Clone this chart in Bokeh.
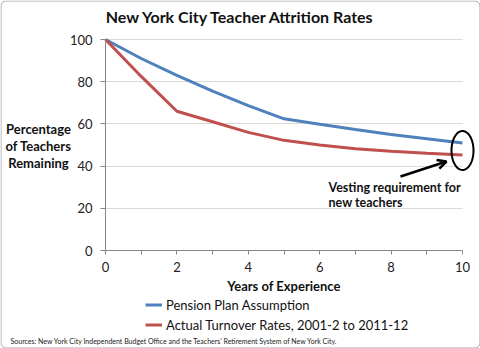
import numpy as np
from bokeh.plotting import figure
from bokeh.models import (Range1d, FixedTicker, Label, Arrow, OpenHead,
                          PolyAnnotation, BoxAnnotation, Legend, LegendItem, Grid)
from bokeh.embed import file_html
from bokeh.resources import INLINE

# ---- data ----
years = [0, 1, 2, 3, 4, 5, 6, 7, 8, 9, 10]
pension_plan = [100, 91, 83, 75.5, 68.7, 62.4, 59.8, 57.3, 55, 53, 51]
actual_turnover = [100, 82.5, 66, 61, 56, 52.2, 50, 48.2, 47, 46.1, 45.3]
series_names = ["Pension Plan Assumption", "Actual Turnover Rates, 2001-2 to 2011-12"]
x_ticks = [0, 2, 4, 6, 8, 10]
x_minor_ticks = [1, 3, 5, 7, 9]
y_ticks = [0, 20, 40, 60, 80, 100]

FONT = "Lato"
W, H = 480, 348
# pixel positions of the plotting area (data 0..10 x 0..100)
PL, PR, PT, PB = 105, 462, 39, 250
X0, X1, Y0, Y1 = 0, 10, 0, 100


def dx(px):
    return X0 + (px - PL) / (PR - PL) * (X1 - X0)


def dy(py):
    return Y0 + (PB - py) / (PB - PT) * (Y1 - Y0)


# the frame covers the whole canvas; axes are pinned at x=0 / y=0
p = figure(width=W, height=H, output_backend="svg", toolbar_location=None,
           x_range=Range1d(dx(0), dx(W)), y_range=Range1d(dy(H), dy(0)),
           min_border_left=0, min_border_right=0, min_border_top=0, min_border_bottom=0)
p.outline_line_color = None
p.background_fill_color = "white"
p.border_fill_color = "white"

axis_col = "#868686"
p.xgrid.visible = False

xa = p.xaxis[0]
xa.fixed_location = Y0
xa.bounds = (X0, X1)
xa.ticker = FixedTicker(ticks=x_ticks, minor_ticks=x_minor_ticks)
xa.axis_line_color = axis_col
xa.major_tick_line_color = axis_col
xa.minor_tick_line_color = axis_col
xa.major_tick_in = 0
xa.major_tick_out = 4
xa.minor_tick_in = 0
xa.minor_tick_out = 4
xa.major_label_standoff = 7
xa.major_label_text_font = FONT
xa.major_label_text_font_size = "13px"
xa.major_label_text_color = "#222222"
xa.axis_label = "Years of Experience"
xa.axis_label_text_font = FONT
xa.axis_label_text_font_size = "13px"
xa.axis_label_text_font_style = "bold"
xa.axis_label_text_color = "#111111"
xa.axis_label_standoff = 3

ya = p.yaxis[0]
ya.fixed_location = X0
ya.bounds = (Y0, Y1)
ya.ticker = FixedTicker(ticks=y_ticks)
ya.axis_line_color = axis_col
ya.major_tick_line_color = axis_col
ya.minor_tick_line_color = None
ya.major_tick_in = 0
ya.major_tick_out = 5
ya.major_label_standoff = 8
ya.major_label_text_font = FONT
ya.major_label_text_font_size = "13px"
ya.major_label_text_color = "#222222"

grid_col = "#d9d9d9"
if "cross_bounds" in Grid.properties():
    p.ygrid.ticker = FixedTicker(ticks=y_ticks[1:])
    p.ygrid.cross_bounds = (X0, X1)
    p.ygrid.grid_line_color = grid_col
else:
    p.ygrid.visible = False
    p.segment(x0=[X0] * (len(y_ticks) - 1), x1=[X1] * (len(y_ticks) - 1),
              y0=y_ticks[1:], y1=y_ticks[1:], line_color=grid_col, line_width=1)

r1 = p.line(years, pension_plan, line_color="#4F81BD", line_width=3)
r2 = p.line(years, actual_turnover, line_color="#C0504D", line_width=3)

legend = Legend(items=[LegendItem(label=series_names[0], renderers=[r1]),
                       LegendItem(label=series_names[1], renderers=[r2])],
                location=(145, H - 334), padding=0, margin=0, spacing=1,
                glyph_width=17, glyph_height=19, label_height=19, label_standoff=4,
                label_text_font=FONT, label_text_font_size="13px",
                label_text_color="#111111",
                border_line_color=None, background_fill_alpha=0)
p.add_layout(legend)

p.add_layout(Label(x=dx(240), y=dy(16), text="New York City Teacher Attrition Rates",
                   text_align="center", text_baseline="middle", text_font=FONT,
                   text_font_size="16px", text_font_style="bold", text_color="#111111"))

# y-axis title, three centred lines left of the tick labels
p.add_layout(Label(x=dx(38), y=dy(145.5), text="Percentage\nof Teachers\nRemaining",
                   text_align="center", text_baseline="middle", text_font=FONT,
                   text_font_size="13px", text_font_style="bold", text_color="#111111",
                   text_line_height=1.08))

p.add_layout(Label(x=dx(10), y=dy(340),
                   text="Sources: New York City Independent Budget Office and the Teachers' Retirement System of New York City.",
                   text_align="left", text_baseline="middle", text_font=FONT,
                   text_font_size="7px", text_color="#222222"))

p.add_layout(Label(x=dx(328), y=dy(187), text="Vesting requirement for",
                   text_align="left", text_baseline="middle", text_font=FONT,
                   text_font_size="12.5px", text_font_style="bold", text_color="#111111"))
p.add_layout(Label(x=dx(328), y=dy(202), text="new teachers",
                   text_align="left", text_baseline="middle", text_font=FONT,
                   text_font_size="12.5px", text_font_style="bold", text_color="#111111"))

# ellipse marking the 10-year vesting point
t = np.linspace(0, 2 * np.pi, 72)
p.add_layout(PolyAnnotation(xs=list(dx(462 + 11 * np.cos(t))), ys=list(dy(150 + 19.5 * np.sin(t))),
                            fill_alpha=0, line_color="black", line_alpha=1, line_width=2))

p.add_layout(Arrow(end=OpenHead(size=9, line_width=2.5, line_color="black"),
                   x_start=dx(400), y_start=dy(176), x_end=dx(446), y_end=dy(161),
                   line_width=2.5, line_color="black"))

# outer chart border
p.add_layout(BoxAnnotation(left=dx(0.5), right=dx(W - 0.5), top=dy(0.5), bottom=dy(H - 0.5),
                           fill_alpha=0, line_color="#a6a6a6", line_alpha=1, line_width=1,
                           border_radius=5))

open("out.html", "w").write(file_html(p, INLINE))
